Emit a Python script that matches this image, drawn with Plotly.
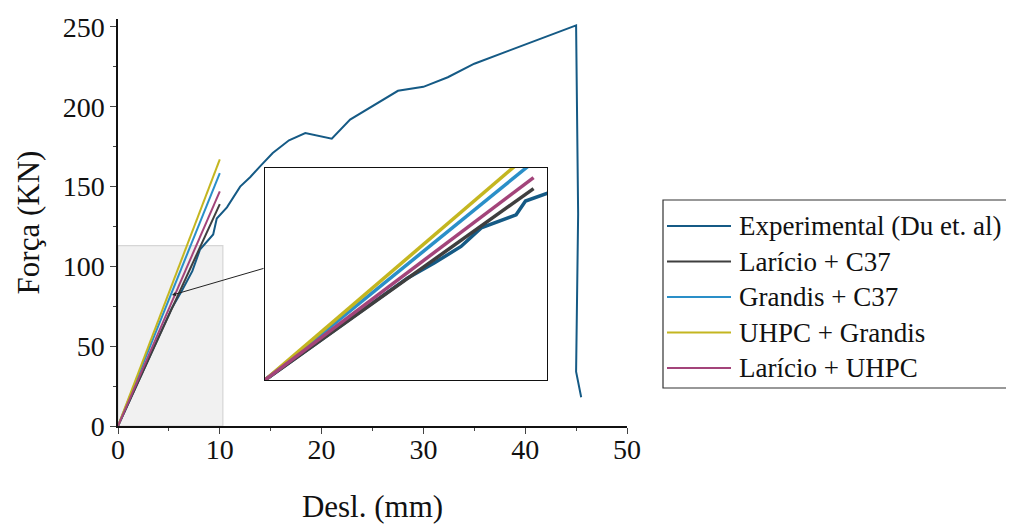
import plotly.graph_objects as go

# ---------------- data ----------------
exp_x = [0, 2.6, 5.3, 6.3, 7.3, 8.05, 9.35, 9.7, 10.7, 12.0, 13.0, 14.0, 15.2, 16.8, 18.4,
         21.0, 22.8, 27.5, 30.0, 32.4, 35.0, 45.0, 45.2, 45.0, 45.5]
exp_y = [0, 36, 74, 85, 97, 110.5, 120, 130, 137, 150, 156, 163, 171, 179, 183.5,
         180, 192, 210, 212.5, 218.5, 227, 251, 133, 34, 18]

sim_x = [0, 10]
lar_c37_y = [0, 139]
gra_c37_y = [0, 158.5]
uhpc_gra_y = [0, 167]
lar_uhpc_y = [0, 147]

names = ["Experimental (Du et. al)", "Larício + C37", "Grandis + C37",
         "UHPC + Grandis", "Larício + UHPC"]
colors = ["#155a85", "#3f3f3f", "#2a8fc8", "#c4b620", "#a3447a"]

x_ticks = [0, 10, 20, 30, 40, 50]
y_ticks = [0, 50, 100, 150, 200, 250]

series = [(exp_x, exp_y), (sim_x, lar_c37_y), (sim_x, gra_c37_y),
          (sim_x, uhpc_gra_y), (sim_x, lar_uhpc_y)]

# ---------------- figure ----------------
# the page body adds an 8px margin, so the figure is drawn 8px smaller and
# all reference pixel positions are shifted by that offset
OFF = 8
W, H = 1014 - OFF, 524 - OFF
L, T = 118 - OFF, 19 - OFF
pw, ph = 509, 407
R = W - L - pw
B = H - T - ph

def px_x(px):  # reference pixel -> paper
    return (px - OFF - L) / pw

def px_y(py):
    return (H - B - (py - OFF)) / ph

FONT = "Liberation Serif"
fig = go.Figure()

# main traces
for (xs, ys), c in zip(series, colors):
    fig.add_trace(go.Scatter(x=xs, y=ys, mode="lines", line=dict(color=c, width=2),
                             xaxis="x", yaxis="y", showlegend=False, hoverinfo="skip"))
# inset traces
for (xs, ys), c in zip(series, colors):
    fig.add_trace(go.Scatter(x=xs, y=ys, mode="lines", line=dict(color=c, width=3.5),
                             xaxis="x2", yaxis="y2", showlegend=False, hoverinfo="skip"))

shapes = [
    dict(type="rect", xref="x", yref="y", x0=0, x1=10.3, y0=0, y1=113,
         fillcolor="#f1f1f1", line=dict(color="#d6d6d6", width=1.2), layer="below"),
]

annotations = [
    dict(x=5.3, y=82, ax=14.44, ay=99, xref="x", yref="y", axref="x", ayref="y",
         showarrow=True, arrowhead=2, arrowsize=0.8, arrowwidth=1, arrowcolor="#222",
         text=""),
]

# custom legend
lx0, lx1, ly0, ly1 = 663, 1012, 200, 388
shapes.append(dict(type="rect", xref="paper", yref="paper",
                   x0=px_x(lx0), x1=px_x(lx1), y0=px_y(ly1), y1=px_y(ly0),
                   line=dict(color="#333", width=1.2), fillcolor="rgba(0,0,0,0)"))
for i, (n, c) in enumerate(zip(names, colors)):
    yy = 226 + i * 35.5
    shapes.append(dict(type="line", xref="paper", yref="paper",
                       x0=px_x(667), x1=px_x(731), y0=px_y(yy), y1=px_y(yy),
                       line=dict(color=c, width=2)))
    annotations.append(dict(x=px_x(737), y=px_y(yy), xref="paper", yref="paper",
                            text=n, showarrow=False, xanchor="left", yanchor="middle",
                            font=dict(family=FONT, size=27, color="#111")))

fig.update_layout(
    width=W, height=H,
    margin=dict(l=L, r=R, t=T, b=B, autoexpand=False),
    paper_bgcolor="white", plot_bgcolor="white",
    font=dict(family=FONT, color="#111"),
    xaxis=dict(range=[0, 50], tickvals=x_ticks, ticks="outside", ticklen=6, tickwidth=1.3,
               showline=True, linecolor="#111", linewidth=1.5, showgrid=False, zeroline=False,
               minor=dict(dtick=5, ticks="outside", ticklen=3.5, tickwidth=1.2, tick0=0),
               tickfont=dict(size=28, family=FONT), automargin=False, ticklabelstandoff=-8,
               title=dict(text="Desl. (mm)", font=dict(size=31, family=FONT), standoff=42),
               domain=[0, 1], anchor="y"),
    yaxis=dict(range=[0, 255], tickvals=y_ticks, ticks="outside", ticklen=6, tickwidth=1.3,
               showline=True, linecolor="#111", linewidth=1.5, showgrid=False, zeroline=False,
               minor=dict(dtick=25, ticks="outside", ticklen=3.5, tickwidth=1.2, tick0=0),
               tickfont=dict(size=28, family=FONT), automargin=False,
               title=dict(text="Força (KN)", font=dict(size=31, family=FONT), standoff=14),
               domain=[0, 1], anchor="x"),
    xaxis2=dict(domain=[px_x(265), px_x(547)], anchor="y2", range=[0, 10.5],
                showticklabels=False, ticks="", showline=True, mirror=True, automargin=False,
                linecolor="#111", linewidth=1.2, showgrid=False, zeroline=False),
    yaxis2=dict(domain=[px_y(380), px_y(168)], anchor="x2", range=[0, 154],
                showticklabels=False, ticks="", showline=True, mirror=True, automargin=False,
                linecolor="#111", linewidth=1.2, showgrid=False, zeroline=False),
    shapes=shapes,
    annotations=annotations,
    showlegend=False,
)

fig.write_html("out.html")
